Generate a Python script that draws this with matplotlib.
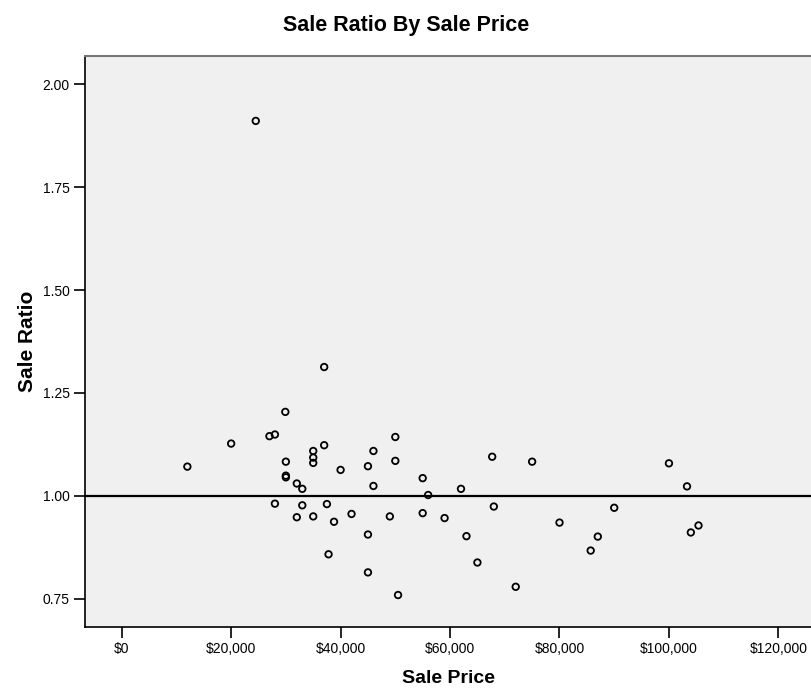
import matplotlib
matplotlib.use("Agg")
import matplotlib.pyplot as plt
from matplotlib.ticker import FuncFormatter

plt.rcParams['font.family'] = ['Liberation Sans', 'DejaVu Sans']

# values
sale_price = [12000, 20000, 24500, 27000, 28000, 29900, 30000, 30000, 30000,
              32000, 33000, 28000, 33000, 37500, 32000, 35000, 37800, 37000,
              37000, 35000, 35000, 35000, 40000, 38800, 42000, 45000, 46000,
              46000, 45000, 45000, 50000, 50000, 49000, 50500, 55000, 56000,
              55000, 59000, 62000, 63000, 65000, 67700, 68000, 72000, 75000,
              80000, 85700, 87000, 90000, 100000, 103300, 104000, 105400]
sale_ratio = [1.071, 1.127, 1.911, 1.145, 1.149, 1.204, 1.083, 1.049, 1.045,
              1.030, 1.017, 0.981, 0.977, 0.980, 0.948, 0.950, 0.858, 1.313,
              1.123, 1.109, 1.093, 1.080, 1.063, 0.937, 0.956, 1.072, 1.109,
              1.024, 0.906, 0.814, 1.143, 1.085, 0.950, 0.759, 1.043, 1.002,
              0.958, 0.946, 1.017, 0.902, 0.838, 1.095, 0.974, 0.779, 1.083,
              0.935, 0.867, 0.901, 0.971, 1.079, 1.023, 0.911, 0.928]
x_ticks = [0, 20000, 40000, 60000, 80000, 100000, 120000]
y_ticks = [0.75, 1.00, 1.25, 1.50, 1.75, 2.00]
ref_ratio = 1.0

fig = plt.figure(figsize=(8.12, 6.89), dpi=100)
ax = fig.add_axes([0.1047, 0.0904, 0.8953, 0.8288])
ax.set_facecolor('#f0f0f0')

ax.scatter(sale_price, sale_ratio, s=22, facecolors='none', edgecolors='black',
           linewidths=1.3, zorder=3)
ax.axhline(ref_ratio, color='black', lw=1.6, zorder=2)

ax.set_xlim(-6700, 126140)
ax.set_ylim(0.682, 2.0695)
ax.set_xticks(x_ticks)
ax.set_yticks(y_ticks)
ax.xaxis.set_major_formatter(FuncFormatter(lambda v, p: '${:,.0f}'.format(v)))
ax.yaxis.set_major_formatter(FuncFormatter(lambda v, p: '%.2f' % v))
ax.tick_params(direction='out', length=8, width=1.2, labelsize=10, pad=3)

ax.spines['right'].set_visible(False)
ax.spines['top'].set_color('#777777')
ax.spines['top'].set_linewidth(1.5)
for s in ['left', 'bottom']:
    ax.spines[s].set_linewidth(1.2)

ax.set_xlabel('Sale Price', fontsize=14, fontweight='bold', labelpad=10)
ax.set_ylabel('Sale Ratio', fontsize=15, fontweight='bold', labelpad=4)
fig.text(0.5, 0.978, 'Sale Ratio By Sale Price', ha='center', va='top',
         fontsize=15.5, fontweight='bold')

fig.savefig('out.png', dpi=100)
